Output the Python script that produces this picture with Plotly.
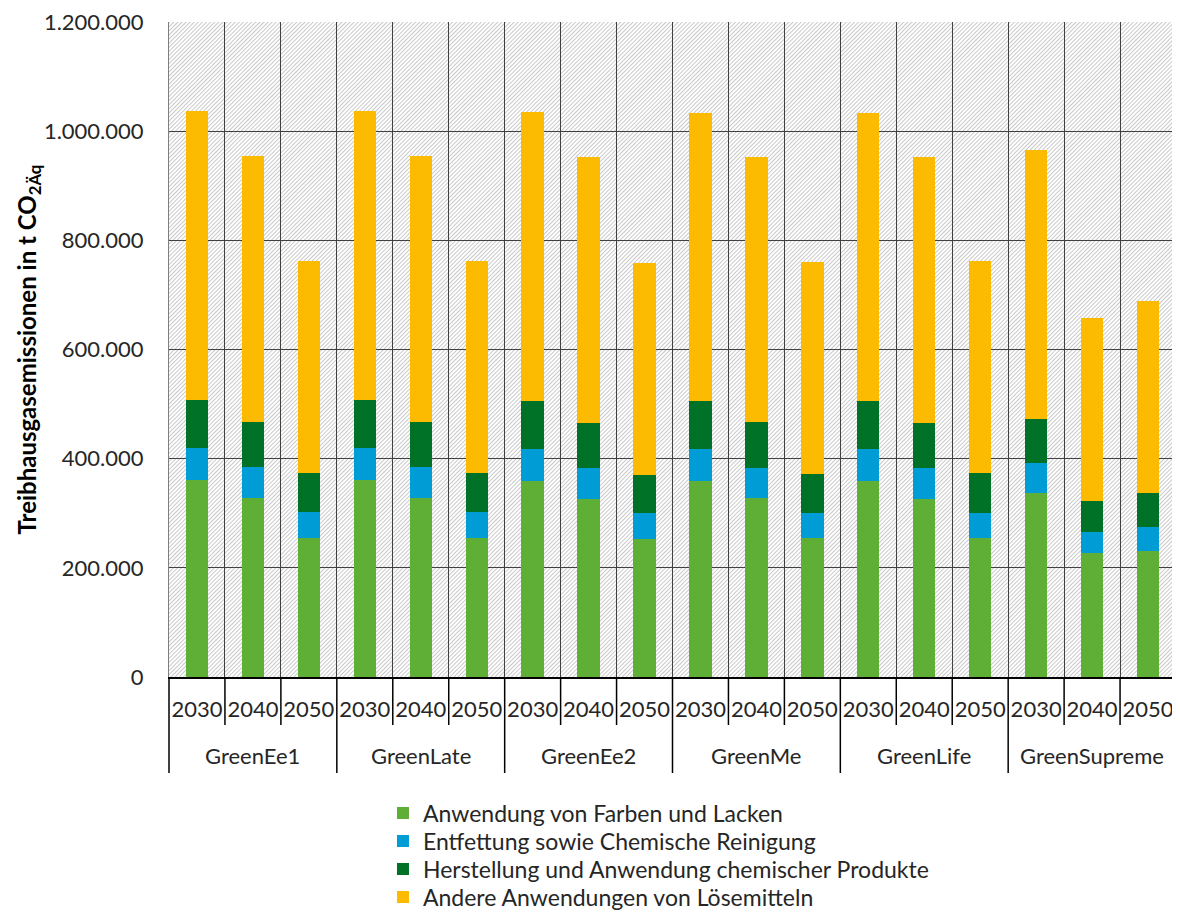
import base64
import plotly.graph_objects as go

# ---------------- data ----------------
groups = ["GreenEe1", "GreenLate", "GreenEe2", "GreenMe", "GreenLife", "GreenSupreme"]
years = ["2030", "2040", "2050"]

series_names = [
    "Anwendung von Farben und Lacken",
    "Entfettung sowie Chemische Reinigung",
    "Herstellung und Anwendung chemischer Produkte",
    "Andere Anwendungen von Lösemitteln",
]

farben_lacken = [361000, 328000, 254000, 361000, 328000, 254000, 359000, 327000, 253000,
                 359000, 328000, 254000, 359000, 327000, 254000, 337000, 227000, 230000]
entfettung = [58000, 56000, 48000, 58000, 56000, 48000, 59000, 56000, 47000,
              58000, 55000, 47000, 58000, 55000, 47000, 55000, 38000, 44000]
herstellung = [88000, 83000, 71000, 88000, 83000, 71000, 88000, 82000, 71000,
               88000, 84000, 71000, 88000, 83000, 72000, 81000, 57000, 63000]
andere = [530000, 488000, 390000, 530000, 488000, 390000, 529000, 487000, 388000,
          528000, 486000, 389000, 528000, 487000, 389000, 492000, 335000, 352000]

y_ticks = [0, 200000, 400000, 600000, 800000, 1000000, 1200000]

# ---------------- styling ----------------
colors = ["#5FAE36", "#009CD6", "#007228", "#FCBA00"]
FONT = "Lato"
TXT = "#262626"

n_groups = len(groups)
n_years = len(years)
n_cat = n_groups * n_years
xpos = list(range(n_cat))
year_labels = [y for _ in groups for y in years]

# page has an 8px body margin -> figure is 8px smaller and all positions shifted
PLOT_H = 655.0
legend_ids = ["legend", "legend2", "legend3", "legend4"]
legend_rows_below_axis = [136, 164, 192, 220]   # text centres, px below the x axis

fig = go.Figure()
for name, vals, col, lid in zip(series_names, [farben_lacken, entfettung, herstellung, andere],
                                colors, legend_ids):
    fig.add_trace(go.Bar(
        x=xpos, y=vals, name=name, width=0.4,
        marker=dict(color=col, line=dict(width=0)),
        legend=lid,
    ))

# hatched plot background (svg pattern image)
W, H = 1007, 655
svg = (
    f'<svg xmlns="http://www.w3.org/2000/svg" width="{W}" height="{H}" viewBox="0 0 {W} {H}">'
    '<defs><pattern id="h" width="2.9" height="2.9" patternUnits="userSpaceOnUse" '
    'patternTransform="rotate(45)">'
    '<rect width="2.9" height="2.9" fill="#ffffff"/>'
    '<line x1="0.5" y1="0" x2="0.5" y2="2.9" stroke="#c8c8c8" stroke-width="1"/>'
    '</pattern></defs>'
    f'<rect width="{W}" height="{H}" fill="url(#h)"/></svg>'
)
src = "data:image/svg+xml;base64," + base64.b64encode(svg.encode()).decode()
fig.add_layout_image(dict(
    source=src, xref="x domain", yref="y domain", x=0, y=1, sizex=1, sizey=1,
    xanchor="left", yanchor="top", sizing="stretch", layer="below",
))

# dividers below the x axis
short_len = 48 / PLOT_H
long_len = 96 / PLOT_H
for i in range(1, n_cat):
    is_group = (i % n_years == 0)
    fig.add_shape(type="line", xref="x", yref="paper",
                  x0=i - 0.5, x1=i - 0.5, y0=0, y1=-(long_len if is_group else short_len),
                  line=dict(color="#000000", width=1.5))
for xe in (0, 1):
    fig.add_shape(type="line", xref="x domain", yref="paper",
                  x0=xe, x1=xe, y0=0, y1=-long_len,
                  line=dict(color="#000000", width=1.5))

# group labels
for g, name in enumerate(groups):
    fig.add_annotation(x=g * n_years + 1, y=-79 / PLOT_H, xref="x", yref="paper",
                       text=name, showarrow=False, yanchor="middle",
                       font=dict(family=FONT, size=22, color=TXT))

layout_legends = {}
for lid, row in zip(legend_ids, legend_rows_below_axis):
    layout_legends[lid] = dict(
        x=0.2125, y=-row / PLOT_H, xanchor="left", yanchor="middle",
        font=dict(family=FONT, size=23, color=TXT),
        bgcolor="rgba(0,0,0,0)",
    )

fig.update_layout(
    width=1172, height=904,
    margin=dict(l=161, r=4, t=14, b=235, autoexpand=False),
    barmode="stack",
    paper_bgcolor="white",
    plot_bgcolor="rgba(0,0,0,0)",
    separators=",.",
    font=dict(family=FONT, size=22, color=TXT),
    showlegend=True,
    **layout_legends,
)

fig.update_xaxes(
    range=[-0.5, n_cat - 0.5],
    tickmode="array", tickvals=xpos, ticktext=year_labels,
    ticks="", showgrid=False, zeroline=False, automargin=False,
    showline=True, linecolor="#000000", linewidth=1.5,
    ticklabelstandoff=12,
    tickfont=dict(family=FONT, size=22, color=TXT),
    minor=dict(tickmode="array", tickvals=[i + 0.5 for i in range(n_cat - 1)],
               showgrid=True, gridcolor="#404040", gridwidth=1, ticks=""),
)
fig.update_yaxes(
    range=[0, 1200000],
    tickmode="array", tickvals=y_ticks, tickformat=",d",
    ticks="", showgrid=True, gridcolor="#404040", gridwidth=1,
    zeroline=False, showline=True, linecolor="#7f7f7f", linewidth=1, mirror=True,
    automargin=False, ticklabeloverflow="allow",
    ticklabelstandoff=20,
    tickfont=dict(family=FONT, size=22, color=TXT),
    title=dict(text="<b>Treibhausgasemissionen in t CO<sub>2Äq</sub></b>",
               font=dict(family=FONT, size=24, color="#000000"), standoff=0),
)

fig.write_html("out.html")
